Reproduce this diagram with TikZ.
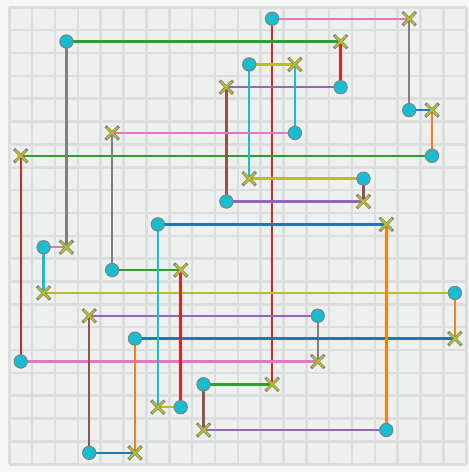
\documentclass[tikz,border=0pt]{standalone}
\usetikzlibrary{shapes.misc}
\definecolor{tabblue}{HTML}{1F77B4}
\definecolor{taborange}{HTML}{FF7F0E}
\definecolor{tabgreen}{HTML}{2CA02C}
\definecolor{tabred}{HTML}{D62728}
\definecolor{tabpurple}{HTML}{9467BD}
\definecolor{tabbrown}{HTML}{8C564B}
\definecolor{tabpink}{HTML}{E377C2}
\definecolor{tabgray}{HTML}{7F7F7F}
\definecolor{tabolive}{HTML}{BCBD22}
\definecolor{tabcyan}{HTML}{17BECF}
\definecolor{outerbg}{HTML}{F5F6F6}
\definecolor{innerbg}{HTML}{EEF0F0}
\definecolor{gridgray}{HTML}{DCDEDE}
\definecolor{markedge}{HTML}{7A8282}
\pgfdeclarelayer{bg}
\pgfdeclarelayer{lines}
\pgfsetlayers{bg,lines,main}
\tikzset{
  gridline/.style={draw=gridgray, line width=1.6pt},
  seg/.style={line width=1.5pt},
  dotpt/.style={circle, fill=tabcyan, draw=markedge, line width=0.6pt,
                minimum size=8.3pt, inner sep=0pt},
  xinner/.style={cross out, draw=tabolive, line width=1.1pt,
                 minimum size=5.9pt, inner sep=0pt},
  xpt/.style={cross out, draw=markedge, line width=1.9pt, minimum size=6.4pt,
              inner sep=0pt, label={[xinner]center:{}}},
}

\begin{document}
\begin{tikzpicture}[x=0.5cm, y=-0.5cm]
  \useasboundingbox (-0.407,-0.319) rectangle (20.1,20.337);
  \begin{pgfonlayer}{bg}
    \fill[outerbg] (-0.407,-0.319) rectangle (20.1,20.337);
    \fill[innerbg] (0,0) rectangle (20,20);
    \foreach \k in {0,...,20} {
      \draw[gridline] (\k,0) -- (\k,20);
      \draw[gridline] (0,\k) -- (20,\k);
    }
  \end{pgfonlayer}

  % stops, cell (column,row) from the top left
  \begin{scope}[shift={(0.5,0.5)}]
    \node[dotpt] (p1) at (11,0) {};
    \node[xpt]   (p2) at (17,0) {};
    \node[dotpt] (p3) at (17,4) {};
    \node[xpt]   (p4) at (18,4) {};
    \node[dotpt] (p5) at (18,6) {};
    \node[xpt]   (p6) at (0,6) {};
    \node[dotpt] (p7) at (0,15) {};
    \node[xpt]   (p8) at (13,15) {};
    \node[dotpt] (p9) at (13,13) {};
    \node[xpt]   (p10) at (3,13) {};
    \node[dotpt] (p11) at (3,19) {};
    \node[xpt]   (p12) at (5,19) {};
    \node[dotpt] (p13) at (5,14) {};
    \node[xpt]   (p14) at (19,14) {};
    \node[dotpt] (p15) at (19,12) {};
    \node[xpt]   (p16) at (1,12) {};
    \node[dotpt] (p17) at (1,10) {};
    \node[xpt]   (p18) at (2,10) {};
    \node[dotpt] (p19) at (2,1) {};
    \node[xpt]   (p20) at (14,1) {};
    \node[dotpt] (p21) at (14,3) {};
    \node[xpt]   (p22) at (9,3) {};
    \node[dotpt] (p23) at (9,8) {};
    \node[xpt]   (p24) at (15,8) {};
    \node[dotpt] (p25) at (15,7) {};
    \node[xpt]   (p26) at (10,7) {};
    \node[dotpt] (p27) at (10,2) {};
    \node[xpt]   (p28) at (12,2) {};
    \node[dotpt] (p29) at (12,5) {};
    \node[xpt]   (p30) at (4,5) {};
    \node[dotpt] (p31) at (4,11) {};
    \node[xpt]   (p32) at (7,11) {};
    \node[dotpt] (p33) at (7,17) {};
    \node[xpt]   (p34) at (6,17) {};
    \node[dotpt] (p35) at (6,9) {};
    \node[xpt]   (p36) at (16,9) {};
    \node[dotpt] (p37) at (16,18) {};
    \node[xpt]   (p38) at (8,18) {};
    \node[dotpt] (p39) at (8,16) {};
    \node[xpt]   (p40) at (11,16) {};
  \end{scope}

  % route legs
  \begin{pgfonlayer}{lines}
    \foreach \a/\b/\c in {p40/p1/tabred, p1/p2/tabpink, p2/p3/tabgray,
        p3/p4/tabblue, p4/p5/taborange, p5/p6/tabgreen, p6/p7/tabred,
        p7/p8/tabpink, p8/p9/tabgray, p9/p10/tabpurple, p10/p11/tabbrown,
        p11/p12/tabblue, p12/p13/taborange, p13/p14/tabblue,
        p14/p15/taborange, p15/p16/tabolive, p16/p17/tabcyan,
        p17/p18/tabpink, p18/p19/tabgray, p19/p20/tabgreen,
        p20/p21/tabred, p21/p22/tabpurple, p22/p23/tabbrown,
        p23/p24/tabpurple, p24/p25/tabbrown, p25/p26/tabolive,
        p26/p27/tabcyan, p27/p28/tabolive, p28/p29/tabcyan,
        p29/p30/tabpink, p30/p31/tabgray, p31/p32/tabgreen,
        p32/p33/tabred, p33/p34/tabolive, p34/p35/tabcyan,
        p35/p36/tabblue, p36/p37/taborange, p37/p38/tabpurple,
        p38/p39/tabbrown, p39/p40/tabgreen}
      \draw[seg, \c] (\a.center) -- (\b.center);
  \end{pgfonlayer}
\end{tikzpicture}
\end{document}
